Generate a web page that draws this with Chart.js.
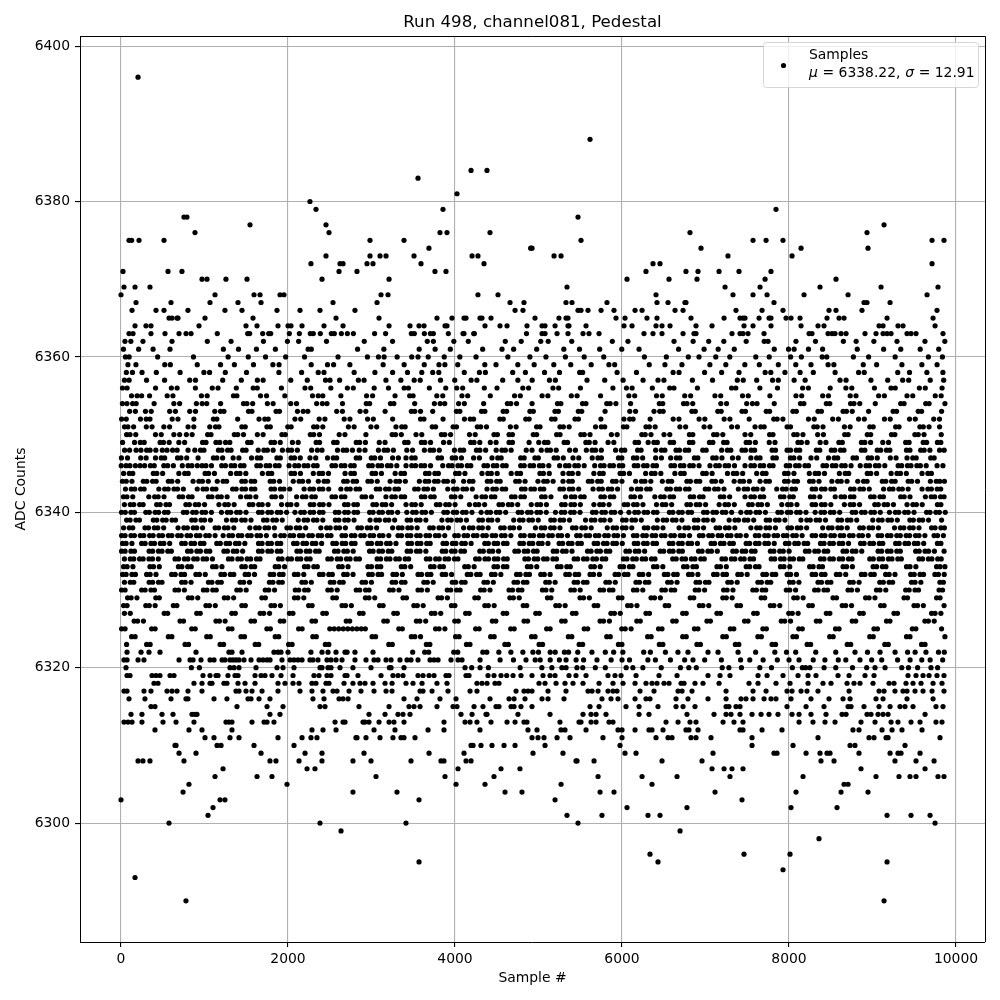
<!DOCTYPE html>
<html>
<head>
<meta charset="utf-8">
<style>
  html, body { margin: 0; padding: 0; background: #fff; }
  #wrap { width: 1000px; height: 1000px; }
</style>
<script src="https://cdn.jsdelivr.net/npm/chart.js@4/dist/chart.umd.min.js"></script>
</head>
<body>
<div id="wrap"><canvas id="pedestal" width="1000" height="1000"></canvas></div>
<script>
const xTicks = [0, 2000, 4000, 6000, 8000, 10000];
const yTicks = [6300, 6320, 6340, 6360, 6380, 6400];

// ADC level and the sample numbers seen on that level
const adcLevels = [6396,6388,6384,6383,6381,6380,6379,6378,6377,6376,6375,6374,6373,6372,6371,6370,6369,6368,6367,6366,6365,6364,6363,
  6362,6361,6360,6359,6358,6357,6356,6355,6354,6353,6352,6351,6350,6349,6348,6347,6346,6345,6344,6343,6342,6341,6340,6339,6338,6337,6336,6335,6334,6333,6332,6331,6330,6329,6328,6327,6326,6325,6324,6323,6322,6321,6320,
  6319,6318,6317,6316,6315,6314,6313,6312,6311,6310,6309,6308,6307,6306,6305,6304,6303,6302,6301,6300,6299,6298,6296,6295,6294,6293,6290];
const samplesAtLevel = [
[204],
[5617],
[4192,4383],
[3557],
[4024],
[2263],
[2335,3856,7844],
[754,790,5473],
[1545,2455,9138],
[886,2491,3820,3904,4419,6814,8934],
[96,128,216,515,2982,3389,5509,7569,7725,7928,9713,9856],
[3688,4906,4922,6946,8144,8946],
[2455,2982,3102,3174,3509,4204,4275,5186,5270,7269,8036],
[2275,2623,2659,2946,3018,3593,4347,6371,6455,9713],
[24,563,730,2611,2826,3760,3892,6287,6766,6910,7162,7401,7784],
[970,1030,1257,1509,2407,3210,6060,6563,6898,7713,8563],
[36,168,347,5341,7234,7653,8371,9102,9784],
[0,1126,1593,1665,1904,1952,3114,3198,4275,4515,6407,7329,7569,7737,8180,8707,9653],
[180,599,1066,1401,1677,2539,3066,4659,4826,5329,5401,5820,6419,6551,6754,6766,7820,8898,8934,9210],
[132,419,515,802,1245,1449,1868,2144,2383,2802,4719,4814,5473,5509,5593,5749,5904,6156,6240,6635,6731,7365,7677,7928,8479,8563,8874,9772],
[575,611,671,683,1006,1581,2575,3090,3784,3964,4108,4132,4299,4323,4431,4958,5245,5329,5353,5928,6036,6299,6419,6826,7222,7413,7449,7473,7641,7761,7784,7964,8024,8132,8455,8599,8659,9174,9725],
[168,299,359,934,1497,1629,1880,2000,2036,2168,2431,2659,3210,3461,3569,3629,3880,3904,4359,4539,4623,4862,5042,5078,5198,5353,5365,5569,6024,6120,6407,6479,6575,6886,7078,7461,7569,7784,8144,8347,8419,9078,9126,9305,9365,9749],
[96,144,359,527,695,779,839,1153,1517,1541,1697,1769,1793,2016,2136,2267,2303,2387,2519,2555,2639,2711,2783,3037,3169,3477,3513,3633,3705,3741,3920,4096,4108,4224,4232,4856,5042,5078,5222,5353,5533,5605,5725,6263,6371,6479,6731,6862,6886,7317,7413,7449,7509,7701,8240,8275,8467,8515,8551,8623,8683,8910,9042,9126,9174,9222,9413,9461,9521,9844],
// 6362
[47,118,263,611,1034,1318,1706,1993,2127,2461,2913,3252,3668,3741,3986,4159,4602,4793,5027,5116,5398,5884,6071,6623,6852,7038,7219,7487,7703,7749,8083,8317,8651,8804,9016,9293,9628,9866],
// 6361
[29,211,384,587,1226,1407,1622,1849,2241,2279,2833,3148,3571,3762,3944,4331,4563,4702,4978,5303,5491,5733,5997,6204,6677,6983,7152,7344,7823,7994,8061,8233,8402,8817,9133,9338,9571,9793],
// 6360
[53,98,439,868,1283,1524,1731,1972,2198,2599,2951,3083,3151,3307,3482,3557,3679,3871,4058,4252,4633,4897,5089,5322,5547,5781,6268,6531,6794,6922,7123,7291,7602,7763,8019,8148,8397,8452,8771,8953,9271,9669,9837],
// 6359
[83,179,524,591,913,1192,1358,1587,1819,1893,2278,2473,2546,2741,3139,3391,3632,3808,3879,4033,4357,4491,4752,4948,5183,5386,5631,5843,5912,6326,6514,6718,7052,7243,7471,7644,7872,8081,8263,8468,8537,8889,9049,9352,9591,9773],
// 6358
[64,137,252,423,708,993,1061,1249,1503,1891,2163,2362,2431,2792,3041,3253,3431,3602,3733,3806,4111,4292,4364,4691,4843,5072,5251,5493,5529,5941,6173,6612,6683,6989,7193,7401,7714,7782,7951,8133,8291,8552,8833,8901,9302,9443,9651,9843],
// 6357
[41,97,306,522,823,892,1218,1441,1633,1702,2033,2231,2449,2503,2618,2843,2911,3173,3352,3511,3583,3826,3997,4193,4262,4571,4753,4924,5131,5202,5581,5793,6013,6252,6431,6502,6843,7084,7381,7452,7613,7803,7872,8061,8193,8611,8683,8981,9182,9361,9433,9691,9852],
// 6356
[18,73,414,603,672,891,1093,1162,1381,1583,1632,1921,2203,2272,2513,2711,2782,3032,3203,3391,3442,3693,3889,4021,4092,4351,4503,4812,4881,5173,5241,5502,5891,6053,6121,6363,6571,6622,6903,7312,7363,7651,7862,8163,8232,8493,8681,8752,9023,9221,9272,9561,9632,9833],
// 6355
[126,193,247,342,553,622,963,1032,1347,1388,1671,1743,1962,2293,2362,2417,2633,2941,3013,3282,3457,3498,3782,3853,4083,4152,4423,4713,4782,5043,5112,5393,5462,5743,6082,6152,6413,6482,6751,6822,7113,7182,7443,7512,7771,8083,8152,8403,8472,8733,8802,9073,9142,9413,9482,9751,9822],
// 6354
[17,71,139,182,397,633,702,903,972,1027,1193,1467,1508,1577,1753,1822,2033,2102,2343,2412,2467,2653,2937,2978,3227,3268,3517,3753,3822,3877,4043,4112,4343,4627,4668,4737,4923,5227,5268,5527,5568,5817,5858,5927,6103,6447,6488,6737,6778,6847,7183,7252,7493,7562,7617,7823,8137,8178,8447,8488,8737,8778,8847,9033,9337,9378,9637,9678,9867],
// 6353
[103,172,293,362,583,652,823,892,1123,1192,1233,1527,1568,1857,1898,2113,2182,2237,2583,2652,2863,2932,3163,3477,3518,3587,3733,4017,4058,4317,4358,4577,4618,4897,4938,5197,5238,5477,5518,5797,6093,6162,6383,6452,6493,6837,6878,7147,7188,7437,7478,7727,7768,8047,8088,8347,8388,8647,8688,8757,8953,9247,9288,9547,9588,9827],
// 6352
[7,63,233,302,347,613,682,873,1107,1148,1397,1653,1722,1763,2083,2152,2373,2442,2673,2742,2953,3022,3253,3587,3628,3857,4113,4182,4223,4537,4578,4847,4888,5157,5198,5437,5478,5747,6023,6092,6133,6337,6613,6682,6923,6992,7223,7292,7523,7817,7858,7927,8233,8302,8523,8592,8833,8902,9143,9212,9443,9512,9733,9802],
// 6351
[42,83,151,303,372,513,582,803,872,1063,1132,1173,1447,1488,1747,1788,1997,2038,2307,2348,2417,2723,2792,2993,3062,3293,3362,3403,3727,3768,3977,4018,4267,4308,4377,4663,4732,4977,5018,5257,5298,5367,5683,5752,5793,6017,6058,6287,6328,6397,6693,6762,6983,7052,7313,7382,7593,7662,7703,7977,8018,8297,8338,8407,8663,8732,8967,9008,9277,9318,9567,9608,9677,9803],
// 6350
[67,108,177,413,482,633,702,783,852,1037,1078,1357,1398,1467,1633,1702,1927,1968,2267,2308,2377,2613,2682,2933,3247,3288,3357,3533,3602,3837,3878,3947,4173,4242,4467,4508,4647,4688,4937,4978,5217,5258,5507,5548,5617,5873,5942,6237,6278,6347,6503,6572,6807,6848,7097,7138,7207,7473,7542,7767,7808,8057,8098,8167,8343,8412,8667,8708,8937,8978,9227,9268,9507,9548,9617,9823],
// 6349
[19,162,231,278,468,509,577,693,762,977,1018,1137,1183,1252,1303,1517,1558,1797,1838,1907,2053,2122,2337,2378,2547,2588,2817,2858,2927,3093,3162,3397,3438,3597,3638,3707,3863,3932,4187,4228,4297,4423,4492,4647,4688,4887,5003,5072,5113,5307,5348,5567,5608,5677,5833,5902,6157,6198,6313,6382,6423,6577,6618,6807,6848,7047,7088,7217,7258,7487,7528,7597,7763,7832,8107,8148,8217,8373,8442,8597,8638,8867,8908,8977,9123,9192,9397,9438,9607,9648,9777,9818],
// 6348
[43,103,181,239,307,348,417,495,551,618,672,803,884,952,993,1167,1208,1277,1318,1457,1498,1643,1712,1753,1822,1933,2002,2043,2112,2283,2352,2407,2593,2662,2703,2772,2853,2922,3083,3152,3193,3262,3423,3492,3633,3702,3743,3812,3993,4062,4103,4257,4298,4367,4493,4562,4603,4672,4853,4922,5033,5102,5143,5212,5373,5442,5573,5642,5683,5752,5923,5992,6033,6187,6228,6403,6472,6513,6647,6688,6757,6798,6967,7008,7193,7262,7303,7437,7478,7547,7588,7797,7838,7977,8018,8087,8128,8327,8368,8507,8548,8617,8658,8867,8908,9057,9098,9167,9208,9407,9448,9577,9618,9687,9803,9858],
// 6347
[5,78,236,301,413,482,523,677,718,787,923,1107,1148,1217,1343,1412,1563,1632,1673,1867,1908,2037,2078,2147,2263,2332,2473,2542,2583,2817,2858,2997,3038,3107,3253,3322,3413,3482,3523,3797,3838,3967,4008,4077,4223,4292,4443,4512,4553,4787,4828,4957,4998,5187,5228,5297,5413,5482,5643,5712,5753,5957,5998,6137,6178,6247,6403,6472,6583,6652,6693,6867,6908,7087,7128,7197,7323,7392,7543,7612,7653,7807,7848,8017,8058,8127,8263,8332,8473,8542,8583,8767,8808,8947,8988,9057,9213,9282,9413,9482,9523,9697,9738],
// 6346
[3,61,107,172,229,283,352,398,513,559,627,734,803,849,914,971,1017,1083,1206,1251,1319,1362,1431,1473,1627,1669,1738,1781,1849,1893,2013,2082,2127,2193,2238,2307,2349,2527,2569,2638,2681,2751,2793,2967,3009,3078,3121,3191,3233,3303,3413,3482,3527,3593,3637,3707,3853,3923,3965,4035,4077,4147,4189,4347,4389,4459,4501,4571,4613,4787,4829,4899,4941,5011,5053,5123,5253,5323,5365,5435,5477,5547,5673,5743,5785,5855,5897,5967,6009,6147,6189,6259,6301,6371,6413,6587,6629,6699,6741,6811,6853,6923,7053,7123,7165,7235,7277,7347,7473,7543,7585,7655,7697,7767,7809,7967,8009,8079,8121,8191,8233,8407,8449,8519,8561,8631,8673,8743,8853,8923,8965,9035,9077,9147,9307,9349,9419,9461,9531,9573,9643,9773,9843],
// 6345
[31,99,141,387,429,499,693,763,805,1007,1049,1119,1313,1383,1425,1495,1693,1763,1805,2037,2079,2149,2303,2373,2415,2485,2683,2753,2795,3007,3049,3119,3283,3353,3395,3647,3689,3759,3801,4007,4049,4119,4323,4393,4435,4505,4673,4743,4785,5017,5059,5129,5293,5363,5405,5475,5663,5733,5775,5977,6019,6089,6283,6353,6395,6465,6633,6703,6745,6967,7009,7079,7263,7333,7375,7445,7613,7683,7725,7947,7989,8059,8243,8313,8355,8425,8603,8673,8715,8937,8979,9049,9223,9293,9335,9405,9593,9663,9705],
// 6344
[17,63,131,267,309,379,421,567,609,679,863,933,975,1045,1153,1223,1265,1447,1489,1559,1601,1787,1829,1899,2063,2133,2175,2245,2363,2433,2475,2667,2709,2779,2821,2957,2999,3069,3223,3293,3335,3405,3573,3643,3685,3755,3797,3867,3909,3979,4103,4173,4215,4387,4429,4499,4541,4727,4769,4839,4993,5063,5105,5175,5293,5363,5405,5597,5639,5709,5751,5887,5929,5999,6163,6233,6275,6345,6483,6553,6595,6777,6819,6889,6931,7077,7119,7189,7343,7413,7455,7525,7653,7723,7765,7947,7989,8059,8101,8247,8289,8359,8513,8583,8625,8695,8823,8893,8935,9117,9159,9229,9271,9427,9469,9539,9693,9763,9805,9861],
// 6343
[53,123,165,235,277,453,523,565,635,677,747,913,983,1025,1095,1137,1337,1379,1449,1491,1561,1603,1797,1839,1909,1951,2021,2193,2263,2305,2375,2417,2487,2633,2703,2745,2815,2857,3057,3099,3169,3211,3281,3323,3517,3559,3629,3671,3741,3913,3983,4025,4095,4137,4207,4383,4453,4495,4565,4607,4797,4839,4909,4951,5021,5063,5257,5299,5369,5411,5481,5653,5723,5765,5835,5877,5947,6113,6183,6225,6295,6337,6537,6579,6649,6691,6761,6803,6997,7039,7109,7151,7221,7393,7463,7505,7575,7617,7687,7853,7923,7965,8035,8077,8277,8319,8389,8431,8501,8543,8737,8779,8849,8891,8961,9133,9203,9245,9315,9357,9427,9593,9663,9705,9775,9817],
// 6342
[29,71,141,333,403,445,515,697,739,809,851,1047,1089,1159,1201,1271,1433,1503,1545,1615,1807,1849,1919,2103,2173,2215,2285,2327,2527,2569,2639,2681,2887,2929,2999,3173,3243,3285,3355,3397,3597,3639,3709,3751,3957,3999,4069,4253,4323,4365,4435,4477,4677,4719,4789,4831,5037,5079,5149,5323,5393,5435,5505,5547,5747,5789,5859,5901,6107,6149,6219,6393,6463,6505,6575,6617,6817,6859,6929,6971,7177,7219,7289,7473,7543,7585,7655,7697,7897,7939,8009,8051,8257,8299,8369,8553,8623,8665,8735,8777,8977,9019,9089,9131,9337,9379,9449,9633,9703,9745,9815,9857],
// 6341
[41,111,153,223,265,427,469,539,581,777,819,889,931,1001,1173,1243,1285,1355,1537,1579,1649,1691,1761,1923,1993,2035,2105,2267,2309,2379,2421,2491,2677,2719,2789,2831,3017,3059,3129,3171,3241,3413,3483,3525,3595,3777,3819,3889,3931,4001,4173,4243,4285,4355,4527,4569,4639,4681,4751,4913,4983,5025,5095,5277,5319,5389,5431,5501,5663,5733,5775,5845,6027,6069,6139,6181,6251,6413,6483,6525,6595,6777,6819,6889,6931,7001,7163,7233,7275,7345,7517,7559,7629,7671,7741,7913,7983,8025,8095,8277,8319,8389,8431,8501,8663,8733,8775,8845,9027,9069,9139,9181,9251,9413,9483,9525,9595,9777,9819],
// 6340
[6,51,119,161,297,339,409,451,521,563,747,789,859,901,971,1013,1083,1203,1273,1315,1385,1427,1497,1647,1689,1759,1801,1871,1913,1983,2083,2153,2195,2265,2307,2377,2419,2567,2609,2679,2721,2791,2833,2977,3019,3089,3131,3201,3243,3313,3423,3493,3535,3605,3647,3717,3867,3909,3979,4021,4091,4133,4203,4313,4383,4425,4495,4537,4607,4757,4799,4869,4911,4981,5023,5093,5203,5273,5315,5385,5427,5497,5647,5689,5759,5801,5871,5913,5983,6083,6153,6195,6265,6307,6377,6419,6567,6609,6679,6721,6791,6833,6977,7019,7089,7131,7201,7243,7313,7423,7493,7535,7605,7647,7717,7867,7909,7979,8021,8091,8133,8203,8313,8383,8425,8495,8537,8607,8757,8799,8869,8911,8981,9023,9093,9203,9273,9315,9385,9427,9497,9647,9689,9759,9801,9871],
// 6339
[67,109,179,221,387,429,499,541,611,653,847,889,959,1001,1071,1263,1333,1375,1445,1487,1557,1707,1749,1819,1861,1931,2123,2193,2235,2305,2347,2417,2567,2609,2679,2721,2791,2983,3053,3095,3165,3207,3277,3427,3469,3539,3581,3651,3843,3913,3955,4025,4067,4137,4287,4329,4399,4441,4511,4703,4773,4815,4885,4927,4997,5147,5189,5259,5301,5371,5563,5633,5675,5745,5787,5857,6007,6049,6119,6161,6231,6423,6493,6535,6605,6647,6717,6867,6909,6979,7021,7091,7283,7353,7395,7465,7507,7577,7727,7769,7839,7881,7951,8143,8213,8255,8325,8367,8437,8587,8629,8699,8741,8811,9003,9073,9115,9185,9227,9297,9447,9489,9559,9601,9671,9827],
// 6338
[31,99,141,287,329,399,441,511,683,753,795,865,907,977,1127,1169,1239,1281,1351,1543,1613,1655,1725,1767,1837,1987,2029,2099,2141,2211,2393,2463,2505,2575,2617,2687,2837,2879,2949,2991,3061,3253,3323,3365,3435,3477,3547,3697,3739,3809,3851,3921,4103,4173,4215,4285,4327,4397,4547,4589,4659,4701,4771,4963,5033,5075,5145,5187,5257,5407,5449,5519,5561,5631,5823,5893,5935,6005,6047,6117,6267,6309,6379,6421,6491,6683,6753,6795,6865,6907,6977,7127,7169,7239,7281,7351,7543,7613,7655,7725,7767,7837,7987,8029,8099,8141,8211,8403,8473,8515,8585,8627,8697,8847,8889,8959,9001,9071,9263,9333,9375,9445,9487,9557,9707,9749,9819,9861],
// 6337
[7,49,119,161,231,273,343,385,455,497,567,609,679,721,791,833,903,945,1015,1057,1127,1223,1293,1335,1405,1447,1517,1559,1629,1671,1741,1843,1913,1955,2025,2067,2137,2179,2249,2291,2361,2403,2473,2515,2647,2689,2759,2801,2871,2913,2983,3025,3095,3137,3207,3317,3359,3429,3471,3541,3583,3653,3695,3765,3807,3877,3997,4039,4109,4151,4221,4263,4333,4375,4445,4487,4557,4599,4669,4787,4829,4899,4941,5011,5053,5123,5165,5235,5277,5347,5457,5499,5569,5611,5681,5723,5793,5835,5905,5947,6017,6137,6179,6249,6291,6361,6403,6473,6515,6585,6627,6697,6739,6809,6927,6969,7039,7081,7151,7193,7263,7305,7375,7417,7487,7597,7639,7709,7751,7821,7863,7933,7975,8045,8087,8157,8277,8319,8389,8431,8501,8543,8613,8655,8725,8767,8837,8879,8949,9067,9109,9179,9221,9291,9333,9403,9445,9515,9557,9627,9737,9779,9849],
// 6336
[19,61,131,247,289,359,401,471,513,583,727,769,839,881,951,993,1147,1189,1259,1301,1371,1413,1483,1647,1689,1759,1801,1871,1913,2067,2109,2179,2221,2291,2333,2403,2537,2579,2649,2691,2761,2803,2957,2999,3069,3111,3181,3223,3293,3437,3479,3549,3591,3661,3703,3857,3899,3969,4011,4081,4123,4193,4357,4399,4469,4511,4581,4623,4777,4819,4889,4931,5001,5043,5113,5247,5289,5359,5401,5471,5513,5667,5709,5779,5821,5891,5933,6003,6147,6189,6259,6301,6371,6413,6567,6609,6679,6721,6791,6833,6903,7067,7109,7179,7221,7291,7333,7487,7529,7599,7641,7711,7753,7823,7957,7999,8069,8111,8181,8223,8377,8419,8489,8531,8601,8643,8713,8857,8899,8969,9011,9081,9123,9277,9319,9389,9431,9501,9543,9613,9777,9819],
// 6335
[7,49,119,161,337,379,449,491,561,603,797,839,909,951,1021,1063,1233,1275,1345,1387,1457,1647,1689,1759,1801,1871,1913,2107,2149,2219,2261,2331,2373,2557,2599,2669,2711,2781,2977,3019,3089,3131,3201,3243,3427,3469,3539,3581,3651,3847,3889,3959,4001,4071,4113,4297,4339,4409,4451,4521,4717,4759,4829,4871,4941,4983,5177,5219,5289,5331,5401,5587,5629,5699,5741,5811,5853,6047,6089,6159,6201,6271,6457,6499,6569,6611,6681,6723,6917,6959,7029,7071,7141,7327,7369,7439,7481,7551,7593,7777,7819,7889,7931,8001,8197,8239,8309,8351,8421,8463,8647,8689,8759,8801,8871,9067,9109,9179,9221,9291,9333,9517,9559,9629,9671,9741,9857],
// 6334
[41,111,153,223,265,335,377,447,647,689,759,801,871,913,983,1025,1095,1287,1329,1399,1441,1511,1553,1623,1665,1887,1929,1999,2041,2111,2153,2223,2265,2477,2519,2589,2631,2701,2743,2813,2855,3067,3109,3179,3221,3291,3333,3403,3445,3657,3699,3769,3811,3881,3923,3993,4035,4247,4289,4359,4401,4471,4513,4583,4625,4837,4879,4949,4991,5061,5103,5173,5215,5427,5469,5539,5581,5651,5693,5763,5805,6017,6059,6129,6171,6241,6283,6353,6395,6607,6649,6719,6761,6831,6873,6943,6985,7197,7239,7309,7351,7421,7463,7533,7575,7787,7829,7899,7941,8011,8053,8123,8165,8377,8419,8489,8531,8601,8643,8713,8755,8967,9009,9079,9121,9191,9233,9303,9345,9557,9599,9669,9711,9781,9823],
// 6333
[31,73,143,347,389,459,687,729,799,841,1097,1139,1209,1447,1489,1559,1601,1847,1889,1959,2197,2239,2309,2351,2607,2649,2719,2957,2999,3069,3111,3357,3399,3469,3707,3749,3819,3861,4117,4159,4229,4467,4509,4579,4621,4867,4909,4979,5227,5269,5339,5381,5627,5669,5739,5977,6019,6089,6131,6377,6419,6489,6737,6779,6849,6891,7137,7179,7249,7487,7529,7599,7641,7897,7939,8009,8247,8289,8359,8401,8647,8689,8759,9007,9049,9119,9161,9407,9449,9519,9767,9809,9867],
// 6332
[19,61,131,173,307,349,419,607,649,719,761,897,939,1009,1197,1239,1309,1351,1487,1529,1599,1787,1829,1899,1941,2077,2119,2189,2377,2419,2489,2531,2667,2709,2779,2967,3009,3079,3121,3257,3299,3369,3557,3599,3669,3711,3847,3889,3959,4147,4189,4259,4301,4437,4479,4549,4737,4779,4849,4891,5027,5069,5139,5327,5369,5439,5481,5617,5659,5729,5917,5959,6029,6071,6207,6249,6319,6507,6549,6619,6661,6797,6839,6909,7097,7139,7209,7251,7387,7429,7499,7687,7729,7799,7841,7977,8019,8089,8277,8319,8389,8431,8567,8609,8679,8867,8909,8979,9021,9157,9199,9269,9457,9499,9569,9611,9747,9789,9859],
// 6331
[41,111,153,337,379,449,491,727,769,839,1047,1089,1159,1201,1427,1469,1539,1777,1819,1889,1931,2167,2209,2279,2507,2549,2619,2661,2887,2929,2999,3247,3289,3359,3401,3627,3669,3739,3967,4009,4079,4121,4347,4389,4459,4707,4749,4819,4861,5087,5129,5199,5427,5469,5539,5581,5807,5849,5919,6167,6209,6279,6321,6547,6589,6659,6887,6929,6999,7041,7267,7309,7379,7627,7669,7739,7781,8007,8049,8119,8347,8389,8459,8501,8727,8769,8839,9087,9129,9199,9241,9467,9509,9579,9807,9849],
// 6330
[7,49,247,289,359,401,647,689,759,987,1029,1099,1141,1387,1429,1499,1727,1769,1839,2087,2129,2199,2241,2477,2519,2589,2817,2859,2929,2971,3217,3259,3329,3557,3599,3669,3907,3949,4019,4061,4307,4349,4419,4647,4689,4759,4801,5047,5089,5159,5387,5429,5499,5737,5779,5849,5891,6137,6179,6249,6477,6519,6589,6631,6877,6919,6989,7217,7259,7329,7567,7609,7679,7721,7967,8009,8079,8307,8349,8419,8461,8707,8749,8819,9047,9089,9159,9397,9439,9509,9551,9797,9839],
// 6329
[79,121,191,417,459,807,849,919,1237,1279,1349,1687,1729,2077,2119,2189,2537,2579,2927,2969,3039,3377,3419,3797,3839,3909,4237,4279,4657,4699,4769,5107,5149,5497,5539,5609,5957,5999,6347,6389,6459,6817,6859,7207,7249,7319,7667,7709,8057,8099,8169,8527,8569,8917,8959,9029,9377,9419,9767,9809],
// 6328
[31,73,297,339,409,627,669,1017,1059,1129,1447,1489,1797,1839,1909,2247,2289,2647,2689,2759,3097,3139,3507,3549,3619,3957,3999,4357,4399,4469,4817,4859,5207,5249,5319,5667,5709,6067,6109,6179,6517,6559,6927,6969,7039,7377,7419,7777,7819,7889,8237,8279,8637,8679,8749,9097,9139,9497,9539,9609,9857],
// 6327
[41,111,517,559,907,949,1327,1369,1667,1709,1779,2017,2059,2417,2459,2857,2899,3267,3309,3717,3759,3829,4127,4169,4577,4619,4967,5009,5407,5449,5867,5909,5979,6287,6329,6727,6769,7137,7179,7577,7619,7997,8039,8109,8447,8489,8847,8889,9257,9299,9707,9749,9819],
// 6326
[157,199,269,707,749,1137,1179,1247,1557,1599,1907,1949,2287,2329,2697,2739,3147,3189,3537,3579,3649,3997,4039,4447,4489,4827,4869,5277,5319,5737,5779,5849,6177,6219,6607,6649,7017,7059,7467,7509,7907,7949,8019,8327,8369,8757,8799,9167,9209,9627,9669,9739],
// 6325
[7,49,367,409,847,889,1287,1329,1747,1789,2127,2169,2500,2553,2607,2662,2716,2771,2825,2878,2926,3327,3369,3767,3809,3879,4247,4289,4667,4709,5097,5139,5547,5589,5997,6039,6109,6437,6479,6867,6909,7297,7339,7687,7729,8117,8159,8557,8599,9017,9059,9477,9519,9827],
// 6324
[127,169,567,609,1027,1069,1437,1479,1847,1889,2297,2339,3007,3049,3477,3519,3587,4007,4049,4427,4469,4917,4959,5357,5399,5817,5859,6307,6349,6727,6769,7207,7249,7627,7669,8047,8089,8487,8529,8967,9009,9407,9449,9867],
// 6323
[67,307,349,767,809,1187,1229,1607,1649,2007,2049,2447,2489,3207,3249,3657,3699,4137,4179,4597,4639,5007,5049,5487,5529,5957,5999,6447,6489,6897,6939,7357,7399,7797,7839,8217,8259,8697,8739,9147,9189,9587,9629],
// 6322
[72,240,335,467,898,1293,1329,1449,1832,1880,1916,2000,2275,2407,2479,2575,2683,2707,2802,3018,3493,3637,3685,3985,4033,4333,4381,4525,4669,4813,4933,5000,5140,5200,5310,5360,5470,5640,5800,5900,6010,6260,6340,6520,6670,6790,7030,7150,7390,7600,7830,7970,8080,8320,8560,8790,8940,9090,9270,9420,9510,9640,9790,9860],
// 6321
[36,72,204,275,695,827,863,958,1066,1114,1210,1245,1305,1341,1377,1413,1473,1557,1653,1701,1749,1785,1928,2024,2072,2120,2168,2263,2299,2359,2467,2515,2575,2647,2802,2934,3030,3078,3174,3234,3341,3425,3473,3557,3701,3749,3797,3952,4036,4084,4300,4540,4700,4850,4960,5020,5140,5250,5330,5450,5540,5700,5870,6000,6090,6310,6400,6580,6750,6850,6990,7190,7420,7530,7690,7860,8000,8120,8290,8430,8590,8680,8850,8990,9110,9300,9450,9590,9690,9840],
// 6320
[60,843,939,1305,1353,1413,1617,1868,1940,2072,2383,2407,2479,2515,2623,2778,2994,3214,3234,3389,4120,4200,4300,4400,4780,5040,5160,5280,5330,5460,5530,5680,5800,6050,6130,6250,6470,6700,6800,6890,7200,7280,7430,7650,7790,8040,8160,8200,8250,8420,8560,8760,8930,9030,9150,9350,9430,9540,9700,9780],
// 6319 and below
[72,108,371,419,467,587,635,982,1066,1138,1162,1281,1365,1401,1605,1677,1725,1808,1916,2060,2311,2371,2467,2515,2683,2707,2838,3114,3257,3317,3377,3557,3617,3689,3749,3892,3928,4132,4168,4395,4467,4551,4619,4695,4790,4922,5054,5138,5198,5365,5449,5569,5832,5916,5988,6168,6443,6659,7030,7174,7293,7629,7737,7928,8108,8228,8323,8587,8719,8910,9018,9425,9521,9605,9677,9772,9856],
[395,443,874,970,1066,1090,1233,1269,1401,1485,1605,1880,1964,2060,2132,2287,2335,2455,2491,2671,2778,2862,2922,3018,3162,3246,3413,3497,3605,3784,3904,4263,4323,4383,4479,4527,5006,5078,5210,5317,5413,5533,5725,5892,6012,6156,6287,6359,6419,6503,6563,6707,6743,6874,6970,7162,7521,7629,7844,8012,8228,8407,8503,8695,8778,8850,9006,9198,9257,9401,9485,9581,9725,9832],
[36,72,275,359,551,611,671,802,970,1377,1413,1497,1569,1689,1880,2144,2287,2419,2539,2587,2731,2874,3030,3174,3246,3581,3617,3725,3916,4180,4263,4731,4826,4874,4922,5114,5329,5593,5641,5713,5832,5892,5940,6216,6383,6671,6719,6838,7246,7569,7725,7976,8036,8144,8215,8347,8719,9078,9138,9269,9365,9413,9509,9605,9713,9856],
[96,287,599,778,802,1114,1269,1521,1557,1653,1784,2299,2431,2611,2659,2719,3389,3545,3820,4012,4419,4647,4707,4838,5042,5114,5305,5760,5868,5952,6156,6287,6335,6647,6790,7030,7246,7425,7485,7569,7701,7784,7844,8024,8263,8479,8647,8731,9042,9126,9413,9725],
[359,407,1389,1749,1940,2383,2443,2850,3210,3449,3509,3581,3784,3976,4024,4228,4335,4491,4527,4671,4707,4790,4922,5617,5725,6048,6204,6431,6647,6731,6874,7246,7281,7365,7413,7976,8204,8419,8707,8743,8898,9078,9210,9329,9389,9485,9760,9844],
[120,251,491,623,850,886,910,1784,1904,2970,3162,3317,3377,3461,4072,4204,4371,4383,4754,5138,5533,5629,5689,5808,6204,6323,6778,7102,7246,7305,7413,7557,7665,7760,7868,8036,8120,8263,8443,8635,8683,8934,8982,9066,9126,9186,9629],
[36,84,132,251,503,659,874,1257,1293,1329,1569,1713,1749,1832,2563,2659,2683,2898,2922,2970,3090,3210,3269,3389,3868,4120,4180,4263,4431,4623,4719,4826,4862,5257,5485,5509,5629,5689,5844,5892,6527,6671,6814,6886,7210,7341,7449,8120,8287,8431,8551,8862,9030,9222,9305,9461,9569,9760,9832],
[407,814,970,1329,2287,2419,2575,3030,3281,3677,3868,4299,4874,4982,5269,5317,5569,5952,6000,6156,6323,6359,6491,6766,6802,6910,7413,7449,7677,7916,8766,8838,9114,9234,9353,9593],
[1006,1114,1305,1413,1880,2168,2275,2347,2814,2826,2934,3102,3257,3353,3389,3521,4922,4994,5066,5222,5377,5772,6000,6407,6551,6599,6826,6886,7066,7557,8347,8958,9018,9162,9186,9808],
[647,659,1150,1198,1593,2072,4192,4216,4311,4443,4587,4719,5078,5976,7557,8048,8731,8790,9389],
[695,898,1677,2204,2407,2910,3689,4108,4934,5293,6036,6168,7090,7820,7856,8204,8371,8455,8491,8838,9210,9305,9341,9569],
[204,263,347,754,1784,1856,2132,2407,2778,2994,3473,3832,3868,4132,4192,5449,5461,5665,6479,6958,8383,8539,9269,9521,9737],
[1222,2228,2323,4036,4551,4778,7078,7222,7317,7449,8862,9629],
[1126,1629,1808,3054,3880,4467,5713,6240,6659,7293,8168,9042,9317,9449,9521,9784,9856],
[814,1988,4012,4359,5270,6359,8659,8707],
[743,2778,3305,4599,4802,5737,5904,7114,8084,8623,8946],
[0,1186,1245,3569,5198,7437],
[1102,6060,6778,8024,8575],
[1042,5341,5760,6311,6455,9174,9461,9689],
[575,2383,3413,5473,9749],
[2635,6695],
[8359],
[6335,7461,8012],
[3569,6431,9174],
[7928],
[168],
[778,9138]
];
const meanText = "6338.22";
const sigmaText = "12.91";

const points = adcLevels.flatMap((level, i) => samplesAtLevel[i].map(s => ({ x: s, y: level })));

const fontFamily = "'DejaVu Sans', sans-serif";

// legend sits inside the axes and has two text lines, so it is drawn here
const frameAndLegend = {
  id: "frameAndLegend",
  afterDraw(chart) {
    const { ctx, chartArea: a } = chart;
    ctx.save();
    ctx.strokeStyle = "#000";
    ctx.lineWidth = 1;
    ctx.beginPath();
    ctx.moveTo(a.left, Math.round(a.top) + 0.5);
    ctx.lineTo(Math.round(a.right) + 0.5, Math.round(a.top) + 0.5);
    ctx.lineTo(Math.round(a.right) + 0.5, a.bottom);
    ctx.stroke();

    ctx.beginPath();
    ctx.roundRect(763.5, 42.5, 215, 45, 3);
    ctx.fillStyle = "rgba(255,255,255,0.8)";
    ctx.fill();
    ctx.strokeStyle = "#d6d6d6";
    ctx.stroke();

    ctx.beginPath();
    ctx.arc(783.5, 65.5, 2.6, 0, Math.PI * 2);
    ctx.fillStyle = "#000";
    ctx.fill();

    ctx.textBaseline = "alphabetic";
    const normal = "13.9px " + fontFamily;
    const italic = "italic 13.9px " + fontFamily;
    ctx.font = normal;
    ctx.fillText("Samples", 809, 59);
    let x = 809;
    [["μ", italic], [" = " + meanText + ", ", normal], ["σ", italic], [" = " + sigmaText, normal]].forEach(([t, f]) => {
      ctx.font = f;
      ctx.fillText(t, x, 76.5);
      x += ctx.measureText(t).width + 0.3;
    });
    ctx.restore();
  }
};

new Chart(document.getElementById("pedestal"), {
  type: "scatter",
  data: {
    datasets: [{
      label: "Samples",
      data: points,
      backgroundColor: "#000",
      borderWidth: 0,
      pointRadius: 2.6
    }]
  },
  options: {
    responsive: false,
    animation: false,
    layout: { padding: { right: 15 } },
    scales: {
      x: {
        min: -491,
        max: 10347,
        afterFit: s => { s.height = 58; },
        afterBuildTicks: s => { s.ticks = xTicks.map(value => ({ value })); },
        border: { color: "#000", width: 1 },
        grid: { color: "#b0b0b0", lineWidth: 1.1, tickColor: "#000", tickLength: 5 },
        ticks: { color: "#000", font: { family: fontFamily, size: 13.9 }, padding: 4, maxRotation: 0, autoSkip: false, callback: v => String(v) },
        title: { display: true, text: "Sample #", color: "#000", font: { family: fontFamily, size: 13.9 }, padding: { top: 4, bottom: 13 } }
      },
      y: {
        min: 6284.7,
        max: 6401.3,
        afterFit: s => { s.width = 80; },
        afterBuildTicks: s => { s.ticks = yTicks.map(value => ({ value })); },
        border: { color: "#000", width: 1 },
        grid: { color: "#b0b0b0", lineWidth: 1.1, tickColor: "#000", tickLength: 5 },
        ticks: { color: "#000", font: { family: fontFamily, size: 13.9 }, padding: 5, autoSkip: false, callback: v => String(v) },
        title: { display: true, text: "ADC Counts", color: "#000", font: { family: fontFamily, size: 13.9 }, padding: { top: 13, bottom: 0 } }
      }
    },
    plugins: {
      legend: { display: false },
      tooltip: { enabled: false },
      title: {
        display: true,
        fullSize: false,
        text: "Run 498, channel081, Pedestal",
        color: "#000",
        font: { family: fontFamily, size: 16.67, weight: "normal", lineHeight: 1.2 },
        padding: { top: 13, bottom: 3 }
      }
    }
  },
  plugins: [frameAndLegend]
});
</script>
</body>
</html>
